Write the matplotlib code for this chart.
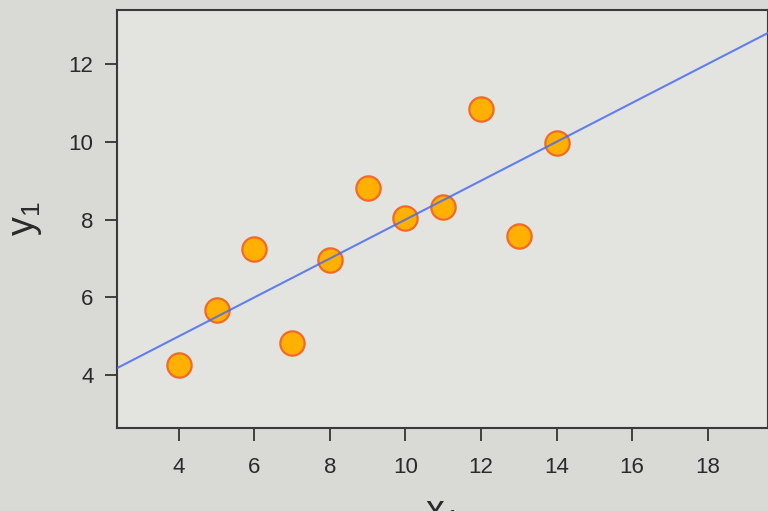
import numpy as np
import matplotlib.pyplot as plt

# Anscombe's quartet, set I
x1 = np.array([10, 8, 13, 9, 11, 14, 6, 4, 12, 7, 5])
y1 = np.array([8.04, 6.95, 7.58, 8.81, 8.33, 9.96, 7.24, 4.26, 10.84, 4.82, 5.68])
fit_intercept = 3.0
fit_slope = 0.5
x_ticks = [4, 6, 8, 10, 12, 14, 16, 18]
y_ticks = [4, 6, 8, 10, 12]

plt.rcParams['font.family'] = ['Liberation Sans', 'DejaVu Sans']
plt.rcParams['mathtext.fontset'] = 'custom'
plt.rcParams['mathtext.rm'] = 'Liberation Sans'

fig = plt.figure(figsize=(7.68, 5.11), dpi=100, facecolor='#d9dad5')
ax = fig.add_axes([117 / 768, 83 / 511, 1 - 117 / 768, 418 / 511])
ax.set_facecolor('#e3e4df')

xlim = (2.36, 19.6)
ax.plot(x1, y1, 'o', markersize=17.5, markerfacecolor='#ffb000',
        markeredgecolor='#f26a2a', markeredgewidth=1.6, zorder=2)
xs = np.array(xlim)
ax.plot(xs, fit_intercept + fit_slope * xs, color='#4a6cf0', lw=1.5,
        alpha=0.85, zorder=3)

ax.set_xlim(*xlim)
ax.set_ylim(2.64, 13.39)
ax.set_xticks(x_ticks)
ax.set_yticks(y_ticks)
ax.tick_params(direction='out', length=9, width=1.3, color='#333333',
               labelsize=16, labelcolor='#2a2a2a')
ax.tick_params(axis='x', pad=12)
ax.tick_params(axis='y', pad=8)
for s in ax.spines.values():
    s.set_color('#3a3a3a')
    s.set_linewidth(1.5)

ax.set_ylabel('$\\mathregular{y_1}$', fontsize=27, color='#2a2a2a', labelpad=18)
ax.set_xlabel('$\\mathregular{x_1}$', fontsize=27, color='#2a2a2a', labelpad=12)

fig.savefig('out.png', dpi=100, facecolor=fig.get_facecolor())
